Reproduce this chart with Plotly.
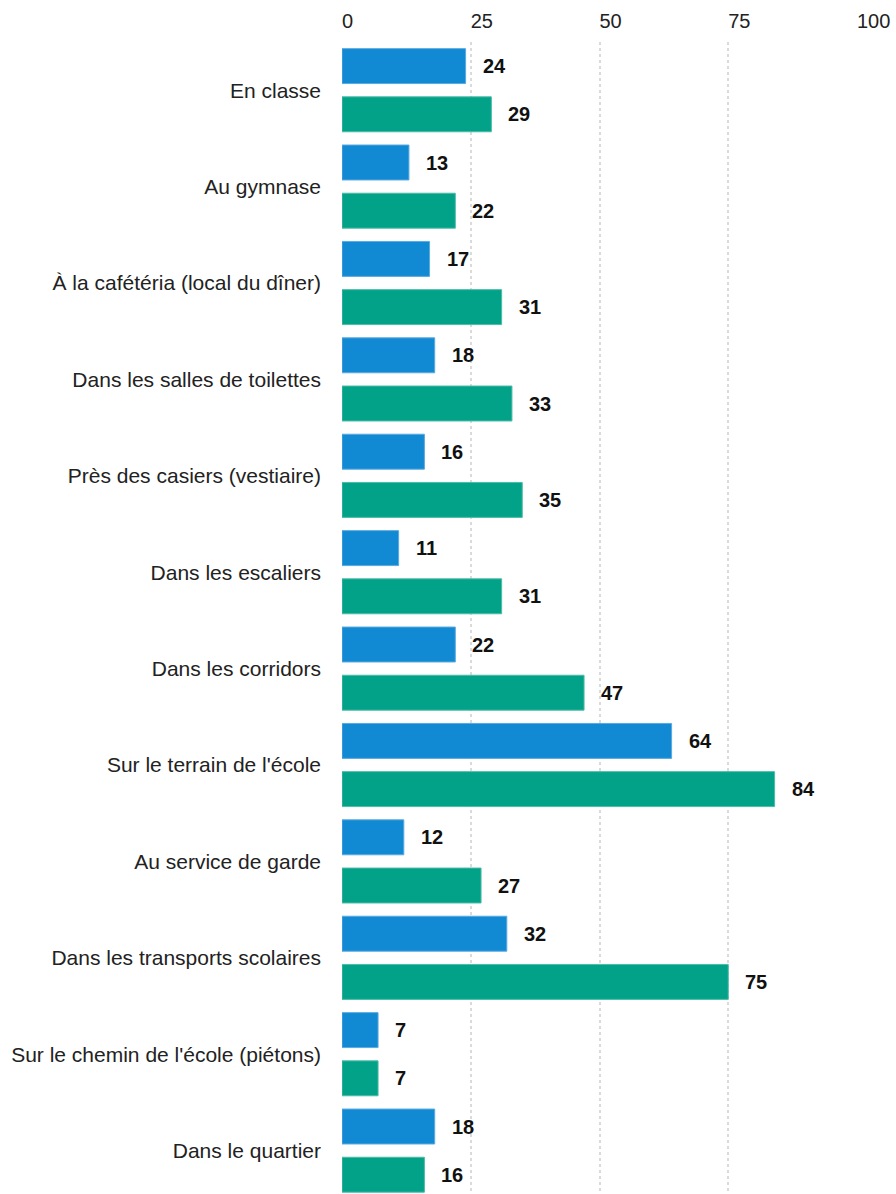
import plotly.graph_objects as go

categories = [
    "En classe",
    "Au gymnase",
    "À la cafétéria (local du dîner)",
    "Dans les salles de toilettes",
    "Près des casiers (vestiaire)",
    "Dans les escaliers",
    "Dans les corridors",
    "Sur le terrain de l'école",
    "Au service de garde",
    "Dans les transports scolaires",
    "Sur le chemin de l'école (piétons)",
    "Dans le quartier",
]
serie_bleue = [24, 13, 17, 18, 16, 11, 22, 64, 12, 32, 7, 18]
serie_verte = [29, 22, 31, 33, 35, 31, 47, 84, 27, 75, 7, 16]
x_ticks = [0, 25, 50, 75, 100]

BLUE = "#1289d3"
GREEN = "#02a288"

fig = go.Figure()
fig.add_trace(go.Bar(
    y=categories, x=serie_bleue, orientation='h',
    marker=dict(color=BLUE, line=dict(color="#5aa9e0", width=1)),
    name="bleu", hoverinfo='x+y'
))
fig.add_trace(go.Bar(
    y=categories, x=serie_verte, orientation='h',
    marker=dict(color=GREEN, line=dict(color="#4dbba8", width=1)),
    name="vert", hoverinfo='x+y'
))

# value labels placed just after each bar
annotations = []
for i, (b, g) in enumerate(zip(serie_bleue, serie_verte)):
    for val, off in ((b, -0.25), (g, 0.25)):
        annotations.append(dict(
            x=val, y=i + off, xref='x', yref='y',
            text=f"<b>{val}</b>", showarrow=False,
            xanchor='left', yanchor='middle', xshift=15,
            font=dict(size=20, color="#111111")
        ))

fig.update_layout(
    width=896, height=1194,
    barmode='group', bargap=0.0, bargroupgap=0.275,
    showlegend=False,
    margin=dict(l=342, r=39, t=42, b=0),
    paper_bgcolor="white", plot_bgcolor="white",
    font=dict(family="Liberation Sans, Arial", size=21, color="#222222"),
    annotations=annotations,
    xaxis=dict(
        side='top', range=[0, 100], tickvals=x_ticks, automargin=False,
        showgrid=True, gridcolor="#dadada", griddash="3px,3px", gridwidth=2,
        zeroline=False, showline=False, ticks='',
        ticklabelposition='outside right', ticklabelstandoff=9,
        ticklabeloverflow='allow',
        tickfont=dict(size=20, color="#222222"),
    ),
    yaxis=dict(
        type='category', range=[11.45, -0.5], automargin=False,
        showgrid=False, zeroline=False, showline=False, ticks='',
        ticklabelstandoff=20,
        tickfont=dict(size=21, color="#222222"),
    ),
)

# drop the default page margin so the figure fills the window exactly
fig.write_html(
    "out.html",
    config={'displayModeBar': False},
    post_script="document.body.style.margin='0';document.body.style.overflow='hidden';",
)
